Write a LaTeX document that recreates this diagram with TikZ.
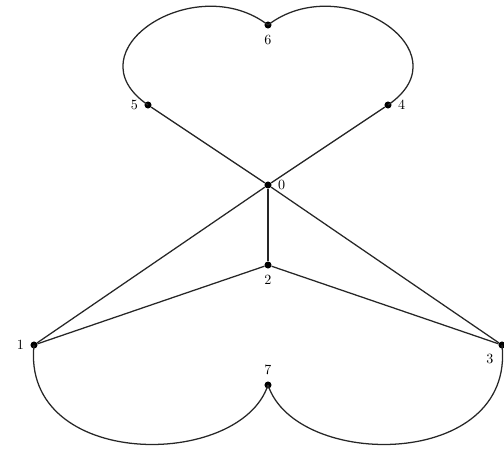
\documentclass[tikz,border=0pt]{standalone}
\usepackage{tikz}
\tikzstyle{vertex} = [circle, fill=black, inner sep=0pt, minimum size=5pt]
\tikzstyle{edge} = [draw=black!85, line width=0.9pt]

\begin{document}
\begin{tikzpicture}[label distance=1pt]
\useasboundingbox (-6.7,-6.575) rectangle (5.9,4.625);

% centre and middle vertices
\node[vertex, label=right:{0}] (v0) at (0,0) {};
\node[vertex, label=below:{2}] (v2) at (0,-2) {};

% lower vertices
\node[vertex, label=left:{1}] (v1) at (-5.85,-4) {};
\node[vertex, label=below left:{3}] (v3) at (5.85,-4) {};
\node[vertex, label=above:{7}] (v7) at (0,-5) {};

% upper vertices
\node[vertex, label=right:{4}] (v4) at (3,2) {};
\node[vertex, label=left:{5}] (v5) at (-3,2) {};
\node[vertex, label=below:{6}] (v6) at (0,4) {};

% straight edges
\draw[edge] (v0) -- (v1);
\draw[edge] (v0) -- (v2);
\draw[edge] (v0) -- (v3);
\draw[edge] (v0) -- (v4);
\draw[edge] (v0) -- (v5);
\draw[edge] (v2) -- (v1);
\draw[edge] (v2) -- (v3);

% upper loop (heart)
\draw[edge] (v5.center) .. controls +(145.6:2.39) and +(142.5:2.3) .. (v6.center);
\draw[edge] (v6.center) .. controls +(37.5:2.3) and +(34.4:2.39) .. (v4.center);

% lower loop
\draw[edge] (v1.center) .. controls +(-96:3.14) and +(-108.2:2.24) .. (v7.center);
\draw[edge] (v7.center) .. controls +(-71.8:2.24) and +(-84:3.14) .. (v3.center);

\end{tikzpicture}
\end{document}
